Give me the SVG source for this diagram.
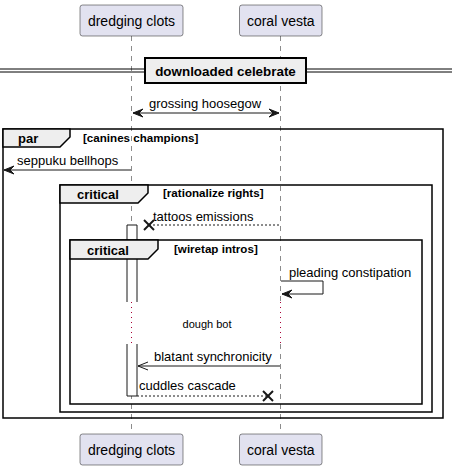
<svg xmlns="http://www.w3.org/2000/svg" width="458" height="471" viewBox="0 0 458 471">
<style>
.part{fill:#E2E2F0;stroke:#181818;stroke-width:0.5}
.ptxt{font-family:"Liberation Sans",Arial,sans-serif;font-size:14px;fill:#000;text-anchor:middle}
.life{stroke:#181818;stroke-width:0.5;stroke-dasharray:5,5;fill:none}
.delay{stroke:#A80036;stroke-width:1;stroke-dasharray:1,4;fill:none}
.msg{stroke:#181818;stroke-width:1;fill:none}
.dash{stroke:#181818;stroke-width:1;fill:none;stroke-dasharray:2,2}
.cross{stroke:#181818;stroke-width:2;fill:none}
.mtxt{font-family:"Liberation Sans",Arial,sans-serif;font-size:13px;fill:#000}
.frame{fill:none;stroke:#000;stroke-width:1.5}
.tab{fill:#EEEEEE;stroke:#000;stroke-width:1.5}
.ftxt{font-family:"Liberation Sans",Arial,sans-serif;font-size:13px;font-weight:bold;fill:#000}
.gtxt{font-family:"Liberation Sans",Arial,sans-serif;font-size:11.6px;font-weight:bold;fill:#000}
.head{fill:#181818;stroke:#181818;stroke-width:1}
.act{fill:#FFFFFF;stroke:#181818;stroke-width:1}
</style>
<g id="lifelines">
<line class="life" x1="131.5" y1="36" x2="131.5" y2="302"/>
<line class="life" x1="131.5" y1="344" x2="131.5" y2="434"/>
<line class="life" x1="280.5" y1="36" x2="280.5" y2="302"/>
<line class="life" x1="280.5" y1="344" x2="280.5" y2="434"/>
<line class="delay" x1="131.5" y1="302" x2="131.5" y2="344"/>
<line class="delay" x1="280.5" y1="302" x2="280.5" y2="344"/>
</g>
<g id="p-dredging-top"><rect class="part" x="80" y="5" width="103" height="31" rx="2.5"/><text class="ptxt" x="131.5" y="25.5">dredging clots</text></g>
<g id="p-coral-top"><rect class="part" x="239.5" y="5" width="82.5" height="31" rx="2.5"/><text class="ptxt" x="280.75" y="25.5">coral vesta</text></g>
<g id="p-dredging-bottom"><rect class="part" x="80" y="434" width="103" height="31" rx="2.5"/><text class="ptxt" x="131.5" y="454.5">dredging clots</text></g>
<g id="p-coral-bottom"><rect class="part" x="239.5" y="434" width="82.5" height="31" rx="2.5"/><text class="ptxt" x="280.75" y="454.5">coral vesta</text></g>
<g id="divider">
<line x1="0" y1="69" x2="452" y2="69" stroke="#000" stroke-width="1"/>
<line x1="0" y1="72" x2="452" y2="72" stroke="#000" stroke-width="1"/>
<rect x="145" y="58" width="161" height="25" fill="#EEEEEE" stroke="#000" stroke-width="2"/>
<text class="ftxt" x="225.5" y="75.5" text-anchor="middle" style="font-size:13.4px">downloaded celebrate</text>
</g>
<g id="frame-par">
<rect class="frame" x="3" y="129" width="440" height="289"/>
<path class="tab" d="M3,129 L70,129 L70,137 L60,147 L3,147 Z"/>
<text class="ftxt" x="18" y="143">par</text>
<text class="gtxt" x="83" y="142">[canines champions]</text>
</g>
<g id="frame-critical-1">
<rect class="frame" x="60" y="185" width="372" height="227"/>
<path class="tab" d="M60,185 L148,185 L148,193 L138,203 L60,203 Z"/>
<text class="ftxt" x="77" y="199">critical</text>
<text class="gtxt" x="163" y="197">[rationalize rights]</text>
</g>
<g id="activation">
<path class="act" d="M127,302 L127,225 L137,225 L137,302"/>
<path class="act" d="M127,344 L127,396 L137,396 L137,344"/>
</g>
<g id="frame-critical-2">
<rect class="frame" x="70" y="240" width="352" height="164"/>
<path class="tab" d="M70,240 L158,240 L158,249 L148,259 L70,259 Z"/>
<text class="ftxt" x="87" y="255">critical</text>
<text class="gtxt" x="174" y="253">[wiretap intros]</text>
</g>
<g id="connectors">
<line class="msg" x1="133" y1="113" x2="279" y2="113"/>
<polygon class="head" points="133,113 143,109 139,113 143,117"/>
<polygon class="head" points="279,113 269,109 273,113 269,117"/>
<text class="mtxt" x="149" y="108">grossing hoosegow</text>
<line class="msg" x1="4" y1="170" x2="131" y2="170"/>
<polygon class="head" points="4,170 14,166 10,170 14,174"/>
<text class="mtxt" x="17" y="165">seppuku bellhops</text>
<line class="dash" x1="149" y1="225" x2="280" y2="225"/>
<line class="cross" x1="144" y1="220" x2="154" y2="230"/>
<line class="cross" x1="144" y1="230" x2="154" y2="220"/>
<text class="mtxt" x="153" y="221">tattoos emissions</text>
<polyline class="msg" points="281,281 323,281 323,294 282,294"/>
<polygon class="head" points="282,294 292,290 288,294 292,298"/>
<text class="mtxt" x="289" y="277">pleading constipation</text>
<text x="207" y="328" text-anchor="middle" font-family="Liberation Sans,Arial,sans-serif" font-size="11px">dough bot</text>
<line class="msg" x1="138" y1="366" x2="280" y2="366"/>
<polyline class="msg" points="148,362 138,366 148,370"/>
<text class="mtxt" x="154" y="361">blatant synchronicity</text>
<line class="dash" x1="137" y1="396" x2="268" y2="396"/>
<line class="cross" x1="263" y1="391" x2="273" y2="401"/>
<line class="cross" x1="263" y1="401" x2="273" y2="391"/>
<text class="mtxt" x="139" y="390">cuddles cascade</text>
</g>
</svg>
